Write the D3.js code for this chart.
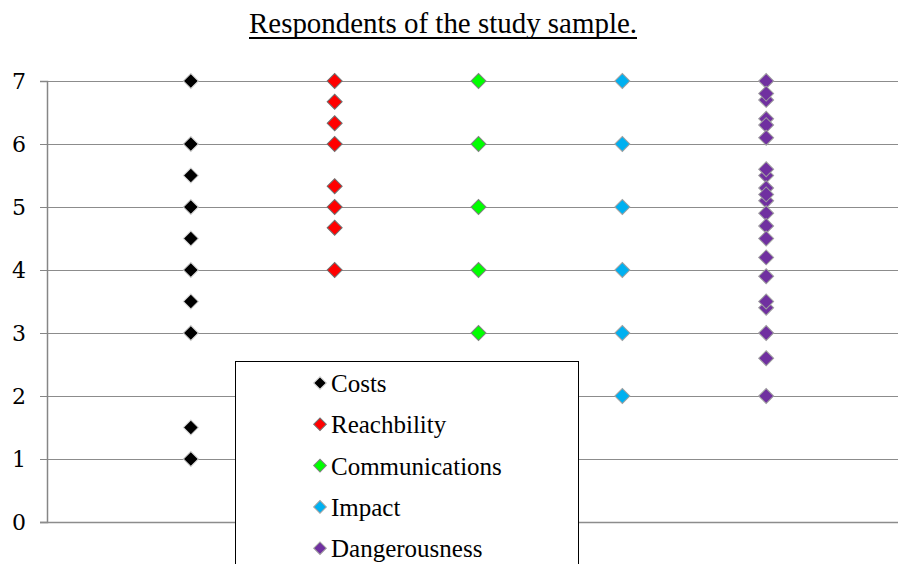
<!DOCTYPE html>
<html><head><meta charset="utf-8">
<script src="https://cdn.jsdelivr.net/npm/d3@7"></script>
<style>html,body{margin:0;padding:0;background:#fff;overflow:hidden}</style>
</head><body>
<svg id="chart" width="898" height="564"></svg>
<script>
const title = "Respondents of the study sample.";
const categories = ["Costs", "Reachbility", "Communications", "Impact", "Dangerousness"];
const costs = [7, 6, 5.5, 5, 4.5, 4, 3.5, 3, 1.5, 1];
const reachbility = [7, 6.67, 6.33, 6, 5.33, 5, 4.67, 4];
const communications = [7, 6, 5, 4, 3];
const impact = [7, 6, 5, 4, 3, 2];
const dangerousness = [7, 6.7, 6.8, 6.4, 6.3, 6.1, 5.5, 5.6, 5.3, 5.1, 5.2, 4.9, 4.7, 4.5, 4.2, 3.9, 3.4, 3.5, 3, 2.6, 2];
const yTicks = [0, 1, 2, 3, 4, 5, 6, 7];

const seriesValues = [costs, reachbility, communications, impact, dangerousness];
const fills = ["#000000", "#ff0000", "#00ff00", "#00b0f0", "#7030a0"];
const strokes = ["#d0d0d0", "#707070", "#808080", "#a0a0a0", "#a0a0a0"];

const svg = d3.select("#chart");
const W = 898, H = 564;
const x0 = 47, xEnd = 910, yTop = 81, yBot = 522;
const serif = "Liberation Serif";

const x = d3.scaleLinear().domain([0, 6]).range([x0, xEnd]);
const y = d3.scaleLinear().domain([0, 7]).range([yBot, yTop]);

// title
svg.append("text")
  .attr("x", 443).attr("y", 33)
  .attr("text-anchor", "middle")
  .attr("font-family", serif)
  .attr("font-size", 29)
  .attr("fill", "#000")
  .attr("textLength", 388).attr("lengthAdjust", "spacingAndGlyphs")
  .text(title);
svg.append("line").attr("x1", 249).attr("x2", 637).attr("y1", 38).attr("y2", 38)
  .attr("stroke", "#000").attr("stroke-width", 2);

// grid lines
svg.append("g").selectAll("line").data(yTicks.filter(d => d > 0)).join("line")
  .attr("x1", x0).attr("x2", W)
  .attr("y1", d => Math.round(y(d)) + 0.5).attr("y2", d => Math.round(y(d)) + 0.5)
  .attr("stroke", "#8c8c8c").attr("stroke-width", 1);

// y axis
const yAxis = d3.axisLeft(y).tickValues(yTicks).tickSize(7).tickPadding(14).tickFormat(d3.format("d"));
const ag = svg.append("g").attr("transform", `translate(${x0},0)`).call(yAxis);
ag.attr("font-family", "DejaVu Serif").attr("font-size", 22);
ag.select(".domain").attr("stroke", "#868686").attr("stroke-width", 1.5);
ag.selectAll(".tick line").attr("stroke", "#868686");
ag.selectAll(".tick text").attr("fill", "#000");

// x axis line (at 0)
svg.append("line").attr("x1", x0 - 7).attr("x2", W)
  .attr("y1", Math.round(y(0)) + 0.5).attr("y2", Math.round(y(0)) + 0.5)
  .attr("stroke", "#8c8c8c").attr("stroke-width", 1.5);

// points
const sym = d3.symbol().type(d3.symbolSquare).size(112);
seriesValues.forEach((vals, i) => {
  svg.append("g").selectAll("path").data(vals).join("path")
    .attr("d", sym)
    .attr("transform", d => `translate(${x(i + 1)},${y(d)}) rotate(45)`)
    .attr("fill", fills[i])
    .attr("stroke", strokes[i])
    .attr("stroke-width", 1);
});

// legend
const lg = svg.append("g");
lg.append("rect").attr("x", 235.5).attr("y", 361.5).attr("width", 343).attr("height", 260)
  .attr("fill", "#fff").attr("stroke", "#000").attr("stroke-width", 1);
const lsym = d3.symbol().type(d3.symbolSquare).size(80);
const rows = lg.selectAll("g.row").data(categories).join("g")
  .attr("class", "row")
  .attr("transform", (d, i) => `translate(0,${383 + i * 41.3})`);
rows.append("path").attr("d", lsym)
  .attr("transform", "translate(320,0) rotate(45)")
  .attr("fill", (d, i) => fills[i]).attr("stroke", (d, i) => strokes[i]).attr("stroke-width", 1);
rows.append("text")
  .attr("x", 331).attr("y", 9)
  .attr("font-family", serif)
  .attr("font-size", 25)
  .attr("fill", "#000")
  .text(d => d);
</script>
</body></html>
